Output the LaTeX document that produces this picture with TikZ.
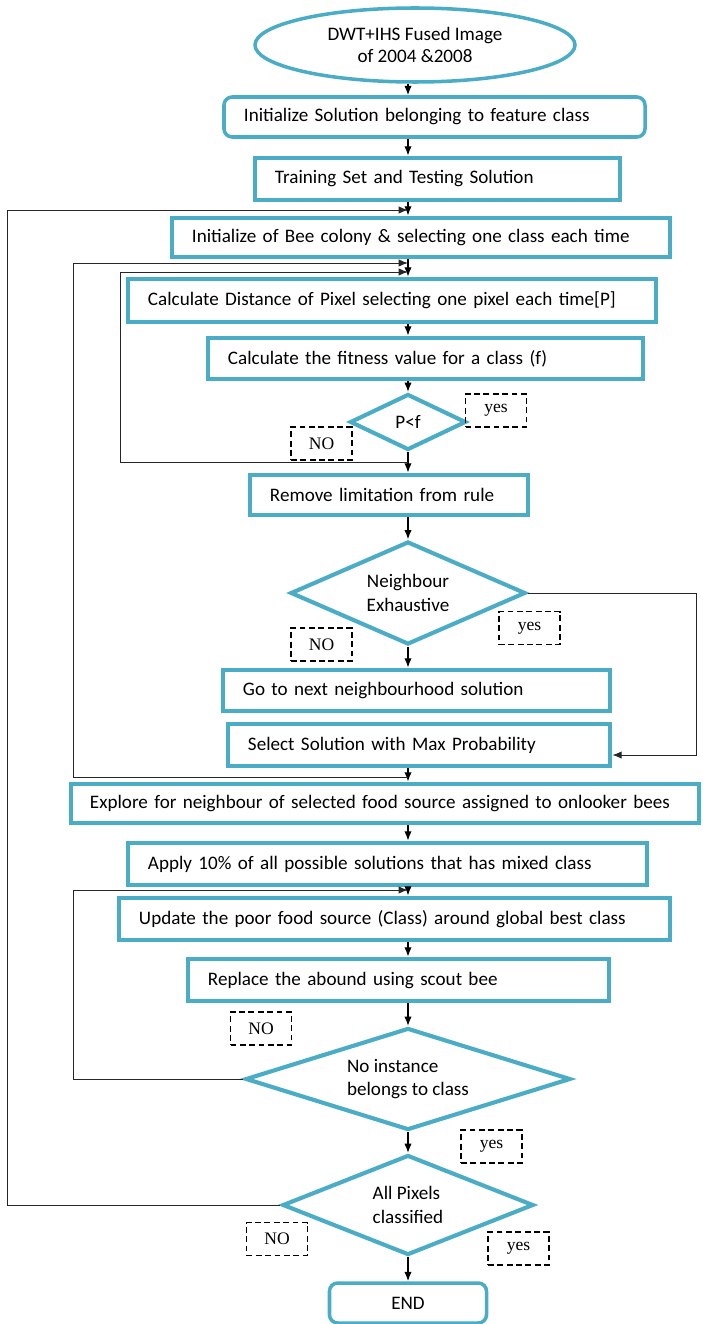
\documentclass[tikz,border=0pt]{standalone}
\usepackage{fontspec}
\setmainfont{Carlito}
\newfontfamily\tagfont{Liberation Serif}
\usepackage{xcolor}
\usetikzlibrary{shapes.geometric, arrows.meta, positioning, calc}
\definecolor{aqua}{HTML}{4BACC6}

\begin{document}
\begin{tikzpicture}[x=0.03cm, y=-0.03cm,
        box/.style={draw=aqua, line width=4pt, rectangle, align=left, inner xsep=0.6cm, inner ysep=0pt, font=\fontsize{16.3}{19}\selectfont},
        rbox/.style={box, rounded corners=7pt, line width=3pt},
        start/.style={draw=aqua, line width=3pt, ellipse, align=center, inner sep=0pt, font=\fontsize{16.3}{19}\selectfont},
        decision/.style={draw=aqua, line width=3.5pt, diamond, aspect=2.3, inner sep=0pt, font=\fontsize{16.3}{20}\selectfont},
        tag/.style={draw, dash pattern=on 5pt off 3pt, line width=1.1pt, minimum width=1.83cm, minimum height=0.99cm, inner sep=0pt, font=\tagfont\fontsize{15}{17}\selectfont},
        arrow/.style={-{Latex[length=2.8mm, width=2.2mm]}, line width=1.1pt},
        back/.style={arrow, line width=0.8pt, black!85}
    ]
        \useasboundingbox (0,0) rectangle (702,1324);

        % Steps
        \node[start, minimum width=9.6cm, minimum height=2.22cm] (start) at (415,45) {DWT+IHS Fused Image\\of 2004 \&2008};
        \node[rbox, text width=11.43cm, minimum height=1.2cm] (init) at (434.5,117) {Initialize Solution belonging to feature class};
        \node[box, text width=9.75cm, minimum height=1.26cm] (train) at (437.5,179) {Training Set and Testing Solution};
        \node[box, text width=13.74cm, minimum height=1.17cm] (colony) at (421,237.5) {Initialize of Bee colony \& selecting one class each time};
        \node[box, text width=14.64cm, minimum height=1.29cm] (dist) at (392,300.5) {Calculate Distance of Pixel selecting one pixel each time[P]};
        \node[box, text width=11.85cm, minimum height=1.23cm] (fit) at (425.5,358.5) {Calculate the fitness value for a class (f)};
        \node[decision, minimum width=3.48cm, minimum height=1.68cm] (cmp) at (408,422) {P<f};
        \node[box, text width=7.14cm, minimum height=1.2cm] (remove) at (389,495) {Remove limitation from rule};
        \node[decision, minimum width=7.05cm, minimum height=3.09cm, align=center] (exh) at (408,593) {Neighbour\\Exhaustive};
        \node[box, text width=10.41cm, minimum height=1.23cm] (next) at (416.5,690.5) {Go to next neighbourhood solution};
        \node[box, text width=10.26cm, minimum height=1.26cm] (select) at (419,745) {Select Solution with Max Probability};
        \node[box, text width=17.7cm, inner xsep=0.57cm, minimum height=1.17cm] (explore) at (385,803.5) {Explore for neighbour of selected food source assigned to onlooker bees};
        \node[box, text width=14.37cm, minimum height=1.26cm] (apply) at (387.5,864) {Apply 10\% of all possible solutions that has mixed class};
        \node[box, text width=15.33cm, minimum height=1.26cm] (update) at (394.5,919) {Update the poor food source (Class) around global best class};
        \node[box, text width=11.43cm, minimum height=1.26cm] (scout) at (398.5,980) {Replace the abound using scout bee};
        \node[decision, aspect=3.2, minimum width=9.75cm, minimum height=3.06cm, align=left] (inst) at (408,1079) {No instance\\belongs to class};
        \node[decision, minimum width=7.53cm, minimum height=3cm, align=left] (allpx) at (408,1205) {All Pixels\\classified};
        \node[rbox, minimum width=4.71cm, minimum height=1.2cm, align=center] (end) at (408,1303) {END};

        % Labels
        \node[tag] (yes1) at (496,410.5) {yes};
        \node[tag] (no1) at (321.5,443.5) {NO};
        \node[tag] (yes2) at (529.5,628) {yes};
        \node[tag] (no2) at (321.5,644.5) {NO};
        \node[tag] (no3) at (261,1028.5) {NO};
        \node[tag] (yes3) at (491.5,1146.5) {yes};
        \node[tag] (no4) at (277,1239) {NO};
        \node[tag] (yes4) at (518.5,1248.5) {yes};

        % Flow
        \coordinate (col) at (408,0);
        \foreach \a/\b in {start/init, init/train, train/colony, colony/dist, dist/fit, fit/cmp, cmp/remove, remove/exh, exh/next, select/explore, explore/apply, apply/update, update/scout, scout/inst, inst/allpx, allpx/end}
            \draw[arrow] (col |- \a.south) -- (col |- \b.north);

        % Loops
        \coordinate (rail0) at (7,0);
        \coordinate (rail1) at (73,0);
        \coordinate (rail2) at (120,0);
        \coordinate (railr) at (696,0);
        \coordinate (j1) at (408,210);
        \coordinate (j2) at (408,263);
        \coordinate (j3) at (408,272);
        \coordinate (j4) at (408,462);
        \coordinate (j5) at (408,777);
        \coordinate (j6) at (408,890);

        \draw[back] (allpx.west) -- (allpx.west -| rail0) |- (j1);
        \draw[back] (j5) -- (j5 -| rail1) |- (j2);
        \draw[back] (j4) -- (j4 -| rail2) |- (j3);
        \draw[back] (inst.west) -- (inst.west -| rail1) |- (j6);
        \draw[back] (exh.east) -- (exh.east -| railr) |- ([yshift=-0.3cm]select.east);
    \end{tikzpicture}
\end{document}
